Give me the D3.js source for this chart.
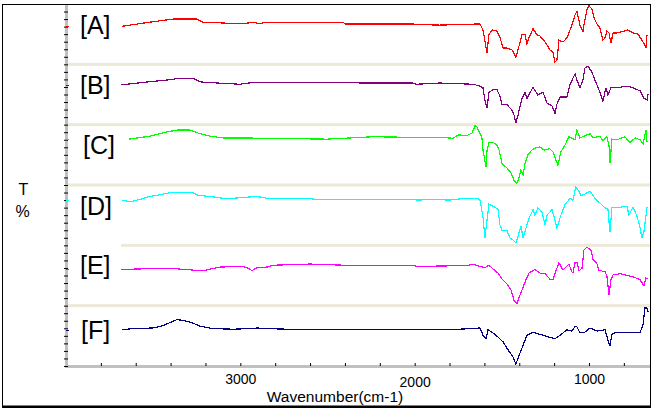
<!DOCTYPE html>
<html>
<head>
<meta charset="utf-8">
<script src="https://cdn.jsdelivr.net/npm/d3@7"></script>
<style>
  body { margin: 0; background: #fff; }
  svg { display: block; }
</style>
</head>
<body>
<div id="chart"></div>
<script>
/* CONSTANTS */
const width = 652, height = 410;
const plot = { left: 66, right: 650, top: 4, bottom: 366 };

/* DATA: [wavenumber cm-1, %T inside its own panel] */
const labels = ["[A]", "[B]", "[C]", "[D]", "[E]", "[F]"];
const colors = ["#ff0000", "#800080", "#00ff00", "#00ffff", "#ff00ff", "#000080"];
const xTickLabels = [3000, 2000, 1000];

const specA = [[3679,63],[3518,70],[3386,75],[3249,75],[3214,70],[2985,67],[2927,70],[2887,67],[2859,70],[2411,70],[2400,67],[2010,67],[1992,66],[1855,65],[1625,67],[1608,57],[1585,19],[1574,49],[1556,57],[1528,55],[1511,45],[1493,27],[1470,27],[1442,24],[1419,12],[1407,24],[1384,50],[1367,50],[1356,34],[1344,44],[1321,59],[1298,49],[1281,47],[1252,37],[1224,24],[1207,20],[1195,4],[1184,7],[1172,40],[1149,37],[1126,44],[1098,65],[1080,82],[1069,88],[1052,65],[1035,54],[1029,65],[1012,90],[1000,97],[983,92],[971,77],[954,67],[937,60],[920,40],[908,44],[897,55],[885,52],[874,35],[862,52],[839,52],[811,54],[776,57],[748,52],[719,50],[696,40],[679,32],[673,27],[667,49]];

const specB = [[3685,66],[3558,70],[3421,74],[3346,77],[3272,77],[3231,71],[3191,70],[3002,67],[2927,70],[2331,70],[2314,69],[2010,69],[1992,67],[1855,69],[1665,67],[1625,64],[1608,61],[1597,41],[1585,28],[1574,53],[1551,58],[1528,58],[1511,48],[1499,33],[1470,33],[1442,24],[1430,16],[1419,3],[1407,16],[1384,44],[1367,53],[1356,43],[1338,53],[1321,62],[1293,49],[1264,54],[1241,36],[1212,31],[1195,19],[1184,34],[1166,46],[1126,46],[1109,66],[1092,77],[1080,84],[1069,74],[1052,61],[1035,74],[1023,94],[1006,97],[983,87],[966,74],[943,58],[920,39],[903,61],[891,49],[874,61],[822,62],[776,64],[748,61],[707,56],[685,44],[667,41],[661,51]];

const specC = [[3639,76],[3518,81],[3421,88],[3363,91],[3289,91],[3231,85],[3174,81],[3099,78],[3002,78],[2503,76],[2239,80],[1797,78],[1780,77],[1751,83],[1700,82],[1671,86],[1654,98],[1642,96],[1614,78],[1608,58],[1591,30],[1585,58],[1574,70],[1551,71],[1528,66],[1516,58],[1499,36],[1470,28],[1447,20],[1430,8],[1413,3],[1402,12],[1390,25],[1378,17],[1367,36],[1350,50],[1327,58],[1310,61],[1281,63],[1258,58],[1224,60],[1207,55],[1189,41],[1178,33],[1161,55],[1138,66],[1115,80],[1080,75],[1069,91],[1052,78],[1029,81],[994,85],[977,78],[937,81],[920,73],[897,80],[885,66],[880,36],[868,76],[839,75],[794,80],[765,70],[736,78],[707,75],[690,68],[673,91],[667,71]];

const specD = [[3679,75],[3633,72],[3576,76],[3535,80],[3461,84],[3386,88],[3272,87],[3243,83],[3174,81],[3076,77],[3002,79],[2904,81],[2847,78],[2618,78],[2560,76],[2010,76],[1987,75],[1895,76],[1797,75],[1740,77],[1642,78],[1625,75],[1608,47],[1597,12],[1585,42],[1574,68],[1551,65],[1522,60],[1511,34],[1499,25],[1470,24],[1453,12],[1436,9],[1419,4],[1407,15],[1390,32],[1378,12],[1361,29],[1344,45],[1321,59],[1310,50],[1293,62],[1270,55],[1252,34],[1241,50],[1212,59],[1195,42],[1184,29],[1161,50],[1138,67],[1109,78],[1092,75],[1075,97],[1063,92],[1046,83],[1029,84],[994,90],[966,78],[937,70],[908,62],[891,60],[880,22],[868,63],[822,63],[782,65],[771,50],[748,63],[725,49],[707,29],[696,12],[685,22],[667,63]];

const specE = [[3685,60],[3558,61],[3363,61],[3272,59],[3214,58],[3117,64],[2985,65],[2956,62],[2933,58],[2904,63],[2847,64],[2813,67],[2600,69],[2400,67],[2010,67],[1987,65],[1797,66],[1700,66],[1665,69],[1625,65],[1597,63],[1574,67],[1551,61],[1522,54],[1499,44],[1470,36],[1447,26],[1430,9],[1413,3],[1402,13],[1384,26],[1367,39],[1344,54],[1310,60],[1281,54],[1252,53],[1224,44],[1207,43],[1184,62],[1172,71],[1149,59],[1126,66],[1115,69],[1098,56],[1092,54],[1080,71],[1069,72],[1057,58],[1040,62],[1029,92],[1012,97],[989,92],[977,77],[954,69],[943,59],[908,56],[897,49],[885,18],[874,43],[862,51],[822,53],[748,48],[707,43],[685,33],[673,46],[661,44]];

const specF = [[3679,60],[3616,62],[3501,63],[3444,67],[3403,72],[3363,77],[3317,75],[3272,71],[3231,66],[3157,62],[3042,61],[2945,62],[2904,63],[2847,62],[2732,61],[1895,61],[1797,60],[1625,63],[1608,51],[1591,45],[1579,60],[1551,55],[1522,48],[1493,40],[1465,27],[1436,15],[1419,3],[1407,13],[1384,30],[1356,51],[1321,56],[1264,51],[1195,45],[1166,51],[1126,60],[1098,58],[1080,65],[1069,65],[1052,55],[1029,55],[994,63],[954,58],[908,60],[891,43],[880,33],[868,53],[839,56],[782,55],[753,56],[707,56],[690,68],[679,96],[667,96],[661,90]];

const spectra = [specA, specB, specC, specD, specE, specF];
const nPanels = spectra.length;

/* SCALES */
const xScale = d3.scaleLinear().domain([4000, 650]).range([plot.left, plot.right]);
// whole stack: each panel gets 100 units, panel A at the top
const yStack = d3.scaleLinear().domain([0, 100 * nPanels]).range([plot.bottom, plot.top]);
const offset = i => (nPanels - 1 - i) * 100;

/* SVG */
const svg = d3.select("#chart").append("svg")
  .attr("width", width)
  .attr("height", height)
  .style("font-family", "'Liberation Sans', Arial, sans-serif");

svg.append("rect").attr("width", width).attr("height", height).attr("fill", "#fff");

// panel separators
const sepStart = [67, 67, 67, 121, 67];
d3.range(1, nPanels).forEach((k, j) => {
  const y = yStack(100 * (nPanels - k));
  svg.append("rect")
    .attr("x", sepStart[j])
    .attr("y", y - 1.5)
    .attr("width", plot.right - sepStart[j])
    .attr("height", 3)
    .attr("fill", "#ece9d8");
});

// spectra
const line = d3.line();
spectra.forEach((spec, i) => {
  line.x(d => xScale(d[0])).y(d => yStack(offset(i) + d[1]));
  svg.append("path")
    .attr("d", line(spec))
    .attr("fill", "none")
    .attr("stroke", colors[i])
    .attr("stroke-width", 1.2)
    .attr("shape-rendering", "crispEdges");
});

// axis bars
svg.append("rect").attr("x", 65).attr("y", plot.top).attr("width", 3)
  .attr("height", plot.bottom - plot.top + 1).attr("fill", "#c0c0c0");
svg.append("rect").attr("x", 65).attr("y", plot.bottom - 1).attr("width", plot.right - 65)
  .attr("height", 3).attr("fill", "#c0c0c0");

// left minor ticks
const yAxis = d3.axisLeft(yStack)
  .tickValues(d3.range(0, 100 * nPanels + 1, 12.5))
  .tickSize(4)
  .tickFormat("");
svg.append("g").attr("transform", `translate(68,0)`).call(yAxis)
  .call(g => g.select(".domain").remove());

// little start marks of each trace on the axis
spectra.forEach((spec, i) => {
  const y = Math.round(yStack(offset(i) + spec[0][1])) + 0.5;
  svg.append("line").attr("x1", 66).attr("x2", 69).attr("y1", y).attr("y2", y)
    .attr("stroke", colors[i]).attr("stroke-width", 1);
});

// bottom ticks every 200 cm-1
const xAxis = d3.axisBottom(xScale)
  .tickValues(d3.range(3800, 700, -200))
  .tickSizeInner(-3)
  .tickSizeOuter(0)
  .tickFormat(d => xTickLabels.includes(d) ? d : "");
svg.append("g").attr("transform", `translate(0,${plot.bottom})`).call(xAxis)
  .call(g => g.select(".domain").remove())
  .call(g => g.selectAll(".tick line").attr("stroke", "#000"))
  .call(g => g.selectAll("text")
    .attr("y", d => d === 2000 ? 21 : 18)
    .attr("dy", 0)
    .attr("fill", "#000")
    .style("font-size", "14px")
    .style("font-family", "'Liberation Sans', Arial, sans-serif"));

// axis titles
svg.append("text").attr("x", 335).attr("y", 402).attr("text-anchor", "middle")
  .style("font-size", "15.5px").text("Wavenumber(cm-1)");
svg.append("text").attr("x", 23.5).attr("y", 195).attr("text-anchor", "middle")
  .style("font-size", "16px").text("T");
svg.append("text").attr("x", 22.5).attr("y", 217).attr("text-anchor", "middle")
  .style("font-size", "16px").text("%");

// panel labels
const labelNudge = [[80, 29.5], [80, 29.7], [83, 29.3], [80, 30], [80, 28.7], [81, 33.3]];
labels.forEach((lab, i) => {
  const top = yStack(offset(i) + 100);
  svg.append("text")
    .attr("x", labelNudge[i][0])
    .attr("y", top + labelNudge[i][1])
    .style("font-size", "25px")
    .attr("fill", "#000")
    .text(lab);
});

// outer frame
svg.append("rect").attr("x", 2.5).attr("y", 4.5).attr("width", 648).attr("height", 402)
  .attr("fill", "none").attr("stroke", "#000").attr("stroke-width", 1);
svg.append("rect").attr("x", 2).attr("y", 405.5).attr("width", 649).attr("height", 2.5)
  .attr("fill", "#000");
</script>
</body>
</html>
